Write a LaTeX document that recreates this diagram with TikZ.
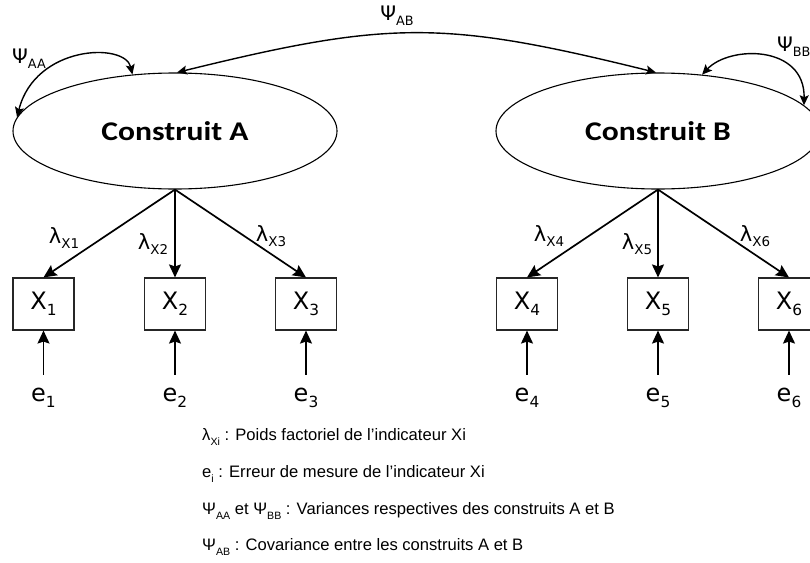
\documentclass[tikz,border=0pt]{standalone}
\usepackage{fontspec}
\setmainfont{DejaVu Sans}
\newfontfamily\constrfont{Carlito}[FakeStretch=1.17]
\newfontfamily\arialf{Liberation Sans}
\usetikzlibrary{arrows.meta,shapes.geometric}
\newcommand\sbs[1]{\raisebox{-0.25em}{\scalebox{0.64}{#1}}}
\begin{document}
\begin{tikzpicture}[x=1pt,y=-1pt,
  construct/.style={ellipse, draw, line width=1.1pt, minimum width=324pt, minimum height=116pt, inner sep=0pt, font=\constrfont\bfseries\fontsize{27}{27}\selectfont},
  indic/.style={draw=black!85, line width=1.1pt, minimum width=61pt, minimum height=52pt, inner sep=0pt, font=\fontsize{24}{24}\selectfont},
  errn/.style={minimum height=46pt, inner sep=0pt, font=\fontsize{24}{24}\selectfont},
  lab/.style={inner sep=0pt, font=\fontsize{21}{21}\selectfont},
  psil/.style={inner sep=0pt, font=\fontsize{20}{20}\selectfont},
  arr/.style={line width=1.7pt, -{Stealth[length=13pt,width=12pt,inset=2pt]}},
  cov/.style={line width=1.4pt, {Stealth[length=10pt,width=9pt,inset=2pt]}-{Stealth[length=10pt,width=9pt,inset=2pt]}},
  legend/.style={anchor=west, inner sep=0pt, font=\arialf\fontsize{16.6}{16.6}\selectfont}
]
\useasboundingbox (0,0) rectangle (810,562);

\node[construct] (A) at (175,131) {Construit A};
\node[construct] (B) at (658,131) {Construit B};

\node[indic] (X1) at (43.5,304) {X\sbs{1}};
\node[indic] (X2) at (175,304) {X\sbs{2}};
\node[indic] (X3) at (306,304) {X\sbs{3}};
\node[indic] (X4) at (527,304) {X\sbs{4}};
\node[indic] (X5) at (658,304) {X\sbs{5}};
\node[indic] (X6) at (789,304) {X\sbs{6}};

\node[errn] (e1) at (43.5,398) {e\sbs{1}};
\node[errn] (e2) at (175,398) {e\sbs{2}};
\node[errn] (e3) at (306,398) {e\sbs{3}};
\node[errn] (e4) at (527,398) {e\sbs{4}};
\node[errn] (e5) at (658,398) {e\sbs{5}};
\node[errn] (e6) at (789,398) {e\sbs{6}};

\foreach \i/\c in {1/A,2/A,3/A,4/B,5/B,6/B}{
  \draw[arr] (\c.south) -- (X\i.north);
  \draw[arr] (e\i.north) -- (X\i.south);
}

\node[lab] (l1) at (64,238) {λ\sbs{X1}};
\node[lab] (l2) at (153,244) {λ\sbs{X2}};
\node[lab] (l3) at (271,236) {λ\sbs{X3}};
\node[lab] (l4) at (549,236) {λ\sbs{X4}};
\node[lab] (l5) at (637,244) {λ\sbs{X5}};
\node[lab] (l6) at (755,236) {λ\sbs{X6}};

\draw[cov] (A.88) .. controls (390,20) and (444,20) .. (B.92);
\draw[cov] (A.175) .. controls (35,45) and (125,42) .. (A.127);
\draw[cov] (B.52) .. controls (730,45) and (805,45) .. (B.10);

\node[psil] (pab) at (397,16) {Ψ\sbs{AB}};
\node[psil] (paa) at (29,59) {Ψ\sbs{AA}};
\node[psil, anchor=west] (pbb) at (777,47) {Ψ\sbs{BB}};

\node[legend] (g1) at (202,437) {λ\sbs{Xi} : Poids factoriel de l’indicateur Xi};
\node[legend] (g2) at (202,474) {e\sbs{i} : Erreur de mesure de l’indicateur Xi};
\node[legend] (g3) at (202,511) {Ψ\sbs{AA} et Ψ\sbs{BB} : Variances respectives des construits A et B};
\node[legend] (g4) at (202,547) {Ψ\sbs{AB} : Covariance entre les construits A et B};
\end{tikzpicture}
\end{document}
